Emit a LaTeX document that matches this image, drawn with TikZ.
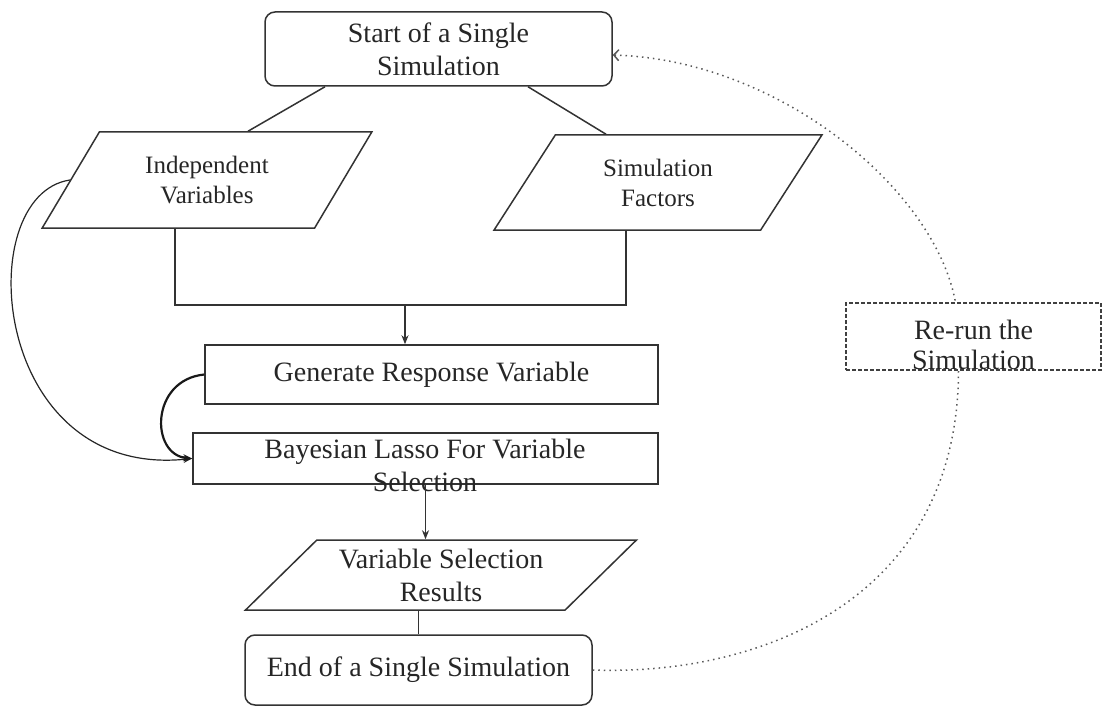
\documentclass[tikz,border=0pt]{standalone}
\usepackage{fontspec}
\setmainfont{Liberation Serif}
\usetikzlibrary{shapes.geometric,arrows.meta}
\begin{document}
\begin{tikzpicture}[x=1pt,y=-1pt,
  every node/.style={inner sep=0pt, align=center, text=black!85},
  big/.style={font=\fontsize{28}{33}\selectfont},
  mid/.style={font=\fontsize{25}{30}\selectfont},
  term/.style={draw=black!80, rounded corners=10pt, line width=1.5pt, big},
  procbox/.style={draw=black!80, line width=1.5pt, big},
  io/.style={draw=black!80, shape=trapezium, trapezium stretches=true, line width=1.5pt},
  conn/.style={line width=1.5pt, draw=black!80},
  tip/.style={-{Stealth[length=9pt,width=7pt]}},
  dots/.style={line width=1.5pt, draw=black!65, dash pattern=on 1.5pt off 4pt},
]
\useasboundingbox (0,0) rectangle (1103,706);

% nodes
\node[term, minimum width=347pt, minimum height=74pt] (start) at (438.5,49) {Start of a Single\\Simulation};
\node[io, mid, trapezium left angle=55.5, trapezium right angle=124.5,
      minimum width=330pt, minimum height=96pt] (iv) at (207,180) {Independent\\Variables};
\node[io, mid, trapezium left angle=55.5, trapezium right angle=124.5,
      minimum width=328pt, minimum height=95pt] (sf) at (658,182.5) {Simulation\\Factors};
\node[procbox, minimum width=453pt, minimum height=59pt] (gen) at (431.5,374.5) {Generate Response Variable};
\node[procbox, minimum width=465pt, minimum height=51pt] (bayes) at (425.5,458.5) {};
\node[big] (bayestext) at (425,465) {Bayesian Lasso For Variable\\Selection};
\node[io, big, trapezium left angle=41.9, trapezium right angle=138.1,
      minimum width=392pt, minimum height=70pt] (vsr) at (441,575) {Variable Selection\\Results};
\node[term, minimum width=347pt, minimum height=70pt] (endbox) at (418.5,670) {End of a Single Simulation};
\node[draw=black!75, dash pattern=on 4pt off 2pt, line width=1.3pt,
      minimum width=255pt, minimum height=67pt] (rerun) at (973.5,336.5) {};
\node[font=\fontsize{28}{30}\selectfont] (reruntext) at (973.5,345) {Re-run the\\Simulation};

% connectors
\draw[conn] ([xshift=-113.5pt]start.south) -- ([xshift=41pt]iv.north);
\draw[conn] ([xshift=89.5pt]start.south) -- ([xshift=-52pt]sf.north);
\coordinate (join) at (405,305);
\draw[conn] ([xshift=-32pt]iv.south) |- (join) -| ([xshift=-32pt]sf.south);
\draw[conn, tip] (join) -- (gen.north -| join);
\draw[conn, tip] (bayes.south) -- (bayes.south |- vsr.north);
\draw[conn] (endbox.north |- vsr.south) -- (endbox.north);

\draw[line width=1.2pt, draw=black!85, tip] (iv.west) .. controls (-30,195) and (-10,480) .. (bayes.west);
\draw[line width=2.2pt, draw=black!90, tip] (gen.west) .. controls (150,380) and (150,455) .. (bayes.west);

\draw[dots] (endbox.east) .. controls (760,676) and (958,600) .. ([xshift=-15pt]rerun.south);
\draw[dots, {Straight Barb[length=5pt,width=11pt,line width=1.5pt]}-] ([yshift=-6pt]start.east) .. controls (780,60) and (935,190) .. ([xshift=-18pt]rerun.north);
\end{tikzpicture}
\end{document}
